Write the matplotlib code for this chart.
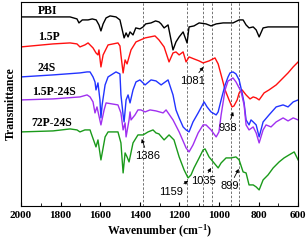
import matplotlib
matplotlib.use('Agg')
import matplotlib.pyplot as plt
from matplotlib.ticker import MultipleLocator

plt.rcParams['mathtext.fontset'] = 'custom'
plt.rcParams['mathtext.bf'] = 'Liberation Serif:bold'
plt.rcParams['mathtext.rm'] = 'Liberation Serif:bold'
plt.rcParams['mathtext.default'] = 'bf'

# spectra (wavenumber, transmittance in arbitrary offset units)
pbi_wn = [2000, 1838, 1752, 1717, 1707, 1690, 1661, 1640, 1620, 1606, 1596, 1585, 1570, 1550,
          1520, 1500, 1479, 1469, 1459, 1449, 1434, 1420, 1399, 1383, 1370, 1343, 1320, 1303,
          1292, 1277, 1257, 1232, 1217, 1201, 1181, 1161, 1151, 1126, 1100, 1065, 1040, 1014,
          979, 954, 929, 898, 878, 863, 848, 827, 812, 797, 777, 752, 726, 696, 661, 625, 600]
pbi_t = [189, 189, 189, 187, 183, 186, 186, 187, 186, 181, 175, 182, 188, 190,
         189, 186, 168, 173, 169, 174, 171, 178, 177, 179, 182, 183, 185, 184,
         182, 178, 181, 156, 164, 169, 174, 163, 179, 180, 183, 182, 180, 182,
         183, 183, 183, 186, 186, 181, 178, 179, 176, 169, 178, 179, 179, 179, 179, 179, 179]

p15_wn = [2000, 1838, 1752, 1717, 1702, 1677, 1661, 1636, 1621, 1611, 1606, 1596, 1585, 1560,
          1510, 1500, 1495, 1484, 1474, 1464, 1444, 1419, 1373, 1323, 1303, 1277, 1252, 1232,
          1217, 1201, 1181, 1166, 1151, 1126, 1100, 1080, 1050, 1020, 1004, 989, 969, 949,
          934, 924, 908, 898, 883, 863, 843, 827, 812, 797, 772, 747, 711, 686, 651, 625, 600]
p15_t = [159, 162, 163, 162, 159, 161, 163, 158, 153, 151, 156, 139, 151, 161,
         163, 160, 151, 133, 146, 142, 156, 164, 168, 170, 166, 159, 144, 153,
         154, 151, 154, 144, 149, 147, 145, 143, 145, 148, 142, 131, 116, 106,
         99, 100, 106, 113, 116, 111, 107, 109, 108, 106, 113, 116, 121, 126, 133, 139, 144]

s24_wn = [2000, 1838, 1702, 1666, 1651, 1636, 1626, 1621, 1611, 1601, 1596, 1590, 1575, 1560,
          1520, 1500, 1495, 1484, 1479, 1469, 1459, 1449, 1434, 1419, 1399, 1373, 1343, 1318,
          1292, 1257, 1232, 1217, 1201, 1181, 1166, 1151, 1131, 1105, 1075, 1060, 1040, 1014,
          1004, 989, 969, 954, 944, 929, 914, 898, 883, 873, 863, 848, 838, 827, 812, 797,
          777, 747, 711, 676, 651, 625, 600]
s24_t = [129, 131, 133, 134, 134, 129, 124, 116, 123, 106, 88, 101, 121, 129,
         134, 132, 111, 91, 84, 106, 111, 103, 116, 124, 126, 121, 126, 125,
         121, 126, 111, 96, 88, 79, 76, 74, 84, 93, 104, 99, 94, 91,
         94, 106, 121, 129, 133, 134, 132, 126, 113, 103, 86, 81, 86, 84, 81, 69,
         84, 91, 99, 101, 99, 104, 106]

p15s_wn = [2000, 1838, 1702, 1666, 1651, 1636, 1626, 1616, 1596, 1580, 1570, 1510, 1495, 1484,
           1474, 1469, 1454, 1449, 1444, 1424, 1409, 1394, 1373, 1348, 1318, 1282, 1267, 1232,
           1201, 1166, 1151, 1131, 1105, 1080, 1065, 1040, 1014, 1000, 989, 969, 954, 944,
           929, 914, 898, 888, 873, 863, 848, 827, 812, 797, 777, 762, 737, 711, 676, 651,
           625, 600]
p15s_t = [106, 107, 109, 111, 109, 104, 93, 99, 81, 96, 103, 101, 93, 76,
          83, 69, 86, 94, 86, 91, 96, 96, 94, 96, 95, 93, 96, 86,
          74, 58, 54, 61, 73, 81, 81, 76, 69, 74, 91, 116, 125, 126,
          128, 124, 118, 114, 101, 81, 76, 79, 73, 63, 76, 81, 79, 84, 88, 85,
          88, 86]

p72s_wn = [2000, 1838, 1752, 1717, 1702, 1677, 1651, 1646, 1621, 1611, 1596, 1575, 1560, 1510,
           1495, 1484, 1474, 1464, 1454, 1434, 1409, 1383, 1358, 1333, 1318, 1303, 1277, 1252,
           1227, 1201, 1176, 1156, 1141, 1126, 1100, 1080, 1070, 1050, 1025, 1004, 989, 964,
           939, 914, 898, 878, 863, 848, 827, 812, 797, 777, 752, 726, 696, 671, 646, 620, 600]
p72s_t = [74, 75, 77, 76, 74, 76, 76, 73, 59, 66, 46, 69, 74, 74,
          63, 33, 53, 49, 44, 63, 71, 71, 74, 76, 73, 72, 66, 71,
          66, 49, 36, 28, 31, 38, 48, 56, 57, 49, 43, 38, 43, 48,
          48, 49, 46, 34, 33, 21, 21, 19, 16, 26, 31, 38, 44, 48, 51, 54, 46]

series = [(pbi_wn, pbi_t, 'black', 'PBI'),
          (p15_wn, p15_t, '#ff1010', '1.5P'),
          (s24_wn, s24_t, '#2233ff', '24S'),
          (p15s_wn, p15s_t, '#a030f0', '1.5P-24S'),
          (p72s_wn, p72s_t, '#1a9a1a', '72P-24S')]
name_pos = [(1915, 195), (1915, 169), (1915, 138), (1945, 114), (1945, 83)]

marks = [1386, 1159, 1081, 1035, 938, 899]
# (label, text position, arrow tip)
notes = [('1081', (1135, 125), (1078, 139)),
         ('938', (955, 78), (928, 94)),
         ('1386', (1360, 50), (1390, 67)),
         ('1159', (1240, 14), (1155, 25)),
         ('1035', (1080, 25), (1040, 38)),
         ('899', (945, 20), (900, 37))]

fig = plt.figure(figsize=(3.08, 2.40), dpi=100)
ax = fig.add_axes([0.068, 0.142, 0.90, 0.85])

for m in marks:
    ax.axvline(m, color='0.45', lw=0.7, ls=(0, (2.5, 1.8)), zorder=1)

for wn, t, c, name in series:
    ax.plot(wn, t, color=c, lw=1.0, zorder=2)

for (wn, t, c, name), (x, y) in zip(series, name_pos):
    ax.text(x, y, name, fontsize=8.5, fontweight='bold', family='Liberation Serif',
            ha='left', va='center')

for lab, txt, tip in notes:
    ax.annotate(lab, xy=tip, xytext=txt, fontsize=8, family='Liberation Sans',
                ha='center', va='center',
                arrowprops=dict(arrowstyle='-|>', lw=0.6, color='k', mutation_scale=5,
                                shrinkA=0.5, shrinkB=0))

ax.set_xlim(2000, 600)
ax.set_ylim(0, 204)
ax.xaxis.set_major_locator(MultipleLocator(200))
ax.xaxis.set_minor_locator(MultipleLocator(100))
ax.tick_params(axis='x', which='both', direction='in', top=False, pad=4)
ax.tick_params(axis='x', which='major', length=3)
ax.tick_params(axis='x', which='minor', length=2)
ax.set_yticks([])
for lbl in ax.get_xticklabels():
    lbl.set_fontfamily('Liberation Serif')
    lbl.set_fontweight('bold')
    lbl.set_fontsize(8)

ax.set_xlabel('Wavenumber (cm$^{-1}$)', fontsize=8.5, fontweight='bold',
              family='Liberation Serif', labelpad=2)
ax.set_ylabel('Transmittance', fontsize=8.5, fontweight='bold',
              family='Liberation Serif', labelpad=3)

fig.savefig('out.png', dpi=100)
